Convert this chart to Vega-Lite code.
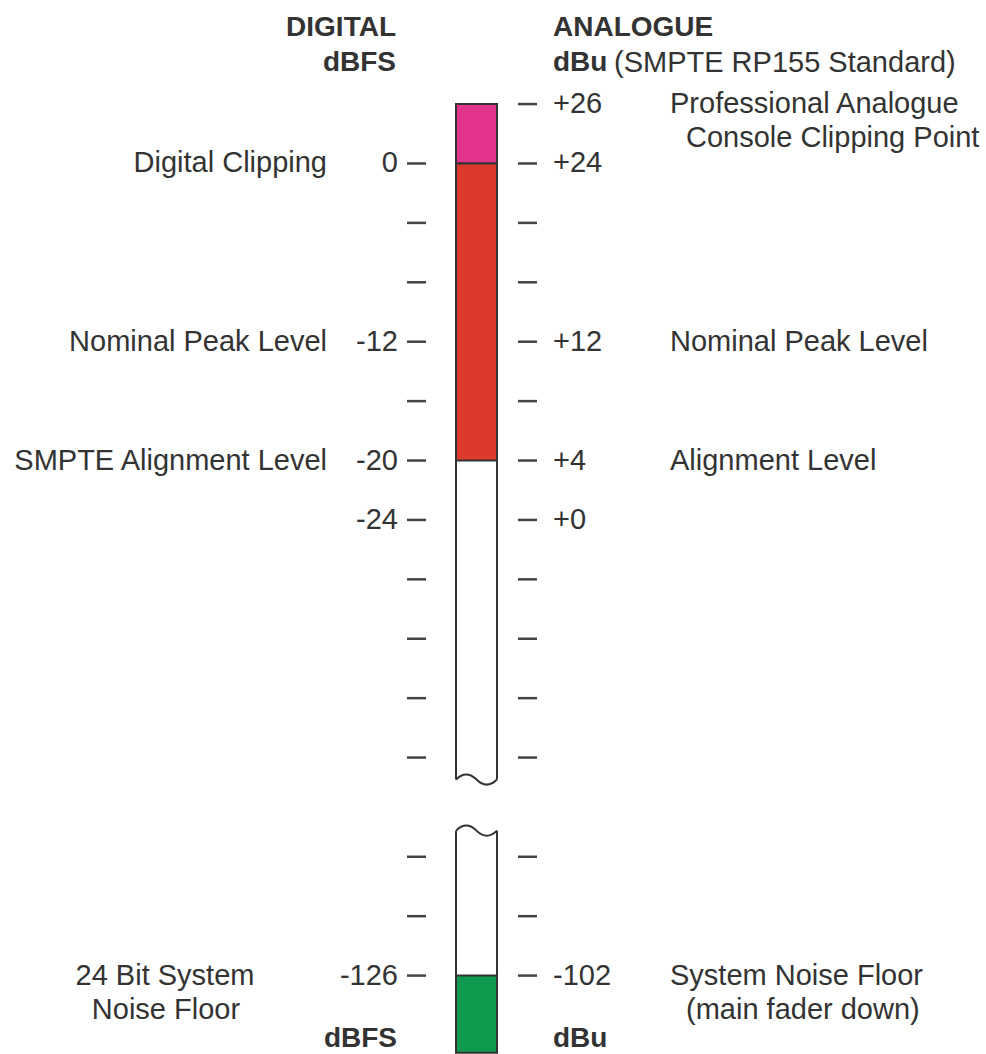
{
  "$schema": "https://vega.github.io/schema/vega-lite/v6.json",
  "width": 986,
  "height": 1054,
  "autosize": {"type": "fit", "contains": "padding"},
  "padding": 0,
  "background": "white",
  "config": {
    "view": {"stroke": null},
    "text": {"font": "Liberation Sans", "fontSize": 29, "fill": "#333333", "baseline": "middle"}
  },
  "datasets": {
    "levels": [
      {"row": 0, "dbu": "+26", "right_label": "Professional Analogue", "right_label_2": "Console Clipping Point"},
      {"row": 1, "dbfs": "0", "dbu": "+24", "left_label": "Digital Clipping"},
      {"row": 2},
      {"row": 3},
      {"row": 4, "dbfs": "-12", "dbu": "+12", "left_label": "Nominal Peak Level", "right_label": "Nominal Peak Level"},
      {"row": 5},
      {"row": 6, "dbfs": "-20", "dbu": "+4", "left_label": "SMPTE Alignment Level", "right_label": "Alignment Level"},
      {"row": 7, "dbfs": "-24", "dbu": "+0"},
      {"row": 8},
      {"row": 9},
      {"row": 10},
      {"row": 11},
      {"row": 12.67},
      {"row": 13.67},
      {"row": 14.67, "dbfs": "-126", "dbu": "-102", "left_note": "24 Bit System", "left_note_2": "Noise Floor", "right_label": "System Noise Floor", "right_label_2": "(main fader down)"}
    ],
    "segments": [
      {"zone": "above digital clipping", "from_row": 0, "to_row": 1},
      {"zone": "peak region", "from_row": 1, "to_row": 6},
      {"zone": "headroom upper", "from_row": 6, "to_row": 11.37},
      {"zone": "headroom lower", "from_row": 12.23, "to_row": 14.67},
      {"zone": "noise floor", "from_row": 14.67, "to_row": 15.97}
    ]
  },
  "layer": [
    {
      "data": {"name": "segments"},
      "transform": [{"filter": "indexof(datum.zone, 'headroom') < 0"}],
      "mark": {"type": "rect", "stroke": "#333333", "strokeWidth": 2},
      "encoding": {
        "x": {"datum": 456, "type": "quantitative", "scale": {"domain": [0, 986], "nice": false, "zero": false}, "axis": null},
        "x2": {"datum": 497},
        "y": {"field": "from_row", "type": "quantitative", "scale": {"domain": [-1.752, 15.99], "reverse": true, "nice": false, "zero": false}, "axis": null},
        "y2": {"field": "to_row"},
        "color": {"field": "zone", "type": "nominal", "legend": null, "scale": {"domain": ["above digital clipping", "peak region", "headroom upper", "headroom lower", "noise floor"], "range": ["#e2338d", "#dc3a2c", "#ffffff", "#ffffff", "#0f9a50"]}}
      }
    },
    {
      "data": {"name": "segments"},
      "transform": [{"filter": "indexof(datum.zone, 'headroom') >= 0"}],
      "mark": {"type": "rule", "stroke": "#333333", "strokeWidth": 2},
      "encoding": {
        "x": {"datum": 456, "type": "quantitative", "scale": {"domain": [0, 986], "nice": false, "zero": false}, "axis": null},
        "y": {"field": "from_row", "type": "quantitative", "scale": {"domain": [-1.752, 15.99], "reverse": true, "nice": false, "zero": false}, "axis": null},
        "y2": {"field": "to_row"}
      }
    },
    {
      "data": {"name": "segments"},
      "transform": [{"filter": "indexof(datum.zone, 'headroom') >= 0"}],
      "mark": {"type": "rule", "stroke": "#333333", "strokeWidth": 2},
      "encoding": {
        "x": {"datum": 497, "type": "quantitative", "scale": {"domain": [0, 986], "nice": false, "zero": false}, "axis": null},
        "y": {"field": "from_row", "type": "quantitative", "scale": {"domain": [-1.752, 15.99], "reverse": true, "nice": false, "zero": false}, "axis": null},
        "y2": {"field": "to_row"}
      }
    },
    {
      "data": {"name": "segments"},
      "transform": [{"filter": "datum.zone == 'headroom upper'"}],
      "mark": {"type": "point", "shape": "M-1,0 Q-0.5,-0.5 0,0 T1,0", "size": 1681, "filled": false, "stroke": "#333333", "strokeWidth": 2, "opacity": 1},
      "encoding": {
        "x": {"datum": 476.5, "type": "quantitative", "scale": {"domain": [0, 986], "nice": false, "zero": false}, "axis": null},
        "y": {"field": "to_row", "type": "quantitative", "scale": {"domain": [-1.752, 15.99], "reverse": true, "nice": false, "zero": false}, "axis": null}
      }
    },
    {
      "data": {"name": "segments"},
      "transform": [{"filter": "datum.zone == 'headroom lower'"}],
      "mark": {"type": "point", "shape": "M-1,0 Q-0.5,-0.5 0,0 T1,0", "size": 1681, "filled": false, "stroke": "#333333", "strokeWidth": 2, "opacity": 1},
      "encoding": {
        "x": {"datum": 476.5, "type": "quantitative", "scale": {"domain": [0, 986], "nice": false, "zero": false}, "axis": null},
        "y": {"field": "from_row", "type": "quantitative", "scale": {"domain": [-1.752, 15.99], "reverse": true, "nice": false, "zero": false}, "axis": null}
      }
    },
    {
      "data": {"name": "levels"},
      "transform": [{"filter": "datum.row > 0"}],
      "mark": {"type": "rule", "stroke": "#444444", "strokeWidth": 2.5},
      "encoding": {
        "x": {"datum": 407, "type": "quantitative", "scale": {"domain": [0, 986], "nice": false, "zero": false}, "axis": null},
        "x2": {"datum": 426},
        "y": {"field": "row", "type": "quantitative", "scale": {"domain": [-1.752, 15.99], "reverse": true, "nice": false, "zero": false}, "axis": null}
      }
    },
    {
      "data": {"name": "levels"},
      "mark": {"type": "rule", "stroke": "#444444", "strokeWidth": 2.5},
      "encoding": {
        "x": {"datum": 518, "type": "quantitative", "scale": {"domain": [0, 986], "nice": false, "zero": false}, "axis": null},
        "x2": {"datum": 537},
        "y": {"field": "row", "type": "quantitative", "scale": {"domain": [-1.752, 15.99], "reverse": true, "nice": false, "zero": false}, "axis": null}
      }
    },
    {
      "data": {"name": "levels"},
      "transform": [{"filter": "datum.dbfs"}],
      "mark": {"type": "text", "align": "right"},
      "encoding": {
        "x": {"datum": 398, "type": "quantitative", "scale": {"domain": [0, 986], "nice": false, "zero": false}, "axis": null},
        "y": {"field": "row", "type": "quantitative", "scale": {"domain": [-1.752, 15.99], "reverse": true, "nice": false, "zero": false}, "axis": null},
        "text": {"field": "dbfs"}
      }
    },
    {
      "data": {"name": "levels"},
      "transform": [{"filter": "datum.dbu"}],
      "mark": {"type": "text", "align": "left"},
      "encoding": {
        "x": {"datum": 553, "type": "quantitative", "scale": {"domain": [0, 986], "nice": false, "zero": false}, "axis": null},
        "y": {"field": "row", "type": "quantitative", "scale": {"domain": [-1.752, 15.99], "reverse": true, "nice": false, "zero": false}, "axis": null},
        "text": {"field": "dbu"}
      }
    },
    {
      "data": {"name": "levels"},
      "transform": [{"filter": "datum.left_label"}],
      "mark": {"type": "text", "align": "right"},
      "encoding": {
        "x": {"datum": 327, "type": "quantitative", "scale": {"domain": [0, 986], "nice": false, "zero": false}, "axis": null},
        "y": {"field": "row", "type": "quantitative", "scale": {"domain": [-1.752, 15.99], "reverse": true, "nice": false, "zero": false}, "axis": null},
        "text": {"field": "left_label"}
      }
    },
    {
      "data": {"name": "levels"},
      "transform": [{"filter": "datum.left_note"}],
      "mark": {"type": "text", "align": "center"},
      "encoding": {
        "x": {"datum": 165, "type": "quantitative", "scale": {"domain": [0, 986], "nice": false, "zero": false}, "axis": null},
        "y": {"field": "row", "type": "quantitative", "scale": {"domain": [-1.752, 15.99], "reverse": true, "nice": false, "zero": false}, "axis": null},
        "text": {"field": "left_note"}
      }
    },
    {
      "data": {"name": "levels"},
      "transform": [{"filter": "datum.left_note_2"}],
      "mark": {"type": "text", "align": "center", "dy": 34},
      "encoding": {
        "x": {"datum": 166, "type": "quantitative", "scale": {"domain": [0, 986], "nice": false, "zero": false}, "axis": null},
        "y": {"field": "row", "type": "quantitative", "scale": {"domain": [-1.752, 15.99], "reverse": true, "nice": false, "zero": false}, "axis": null},
        "text": {"field": "left_note_2"}
      }
    },
    {
      "data": {"name": "levels"},
      "transform": [{"filter": "datum.right_label"}],
      "mark": {"type": "text", "align": "left"},
      "encoding": {
        "x": {"datum": 670, "type": "quantitative", "scale": {"domain": [0, 986], "nice": false, "zero": false}, "axis": null},
        "y": {"field": "row", "type": "quantitative", "scale": {"domain": [-1.752, 15.99], "reverse": true, "nice": false, "zero": false}, "axis": null},
        "text": {"field": "right_label"}
      }
    },
    {
      "data": {"name": "levels"},
      "transform": [{"filter": "datum.right_label_2"}],
      "mark": {"type": "text", "align": "left", "dy": 34},
      "encoding": {
        "x": {"datum": 686, "type": "quantitative", "scale": {"domain": [0, 986], "nice": false, "zero": false}, "axis": null},
        "y": {"field": "row", "type": "quantitative", "scale": {"domain": [-1.752, 15.99], "reverse": true, "nice": false, "zero": false}, "axis": null},
        "text": {"field": "right_label_2"}
      }
    },
    {
      "data": {"values": [{"heading": "DIGITAL"}]},
      "mark": {"type": "text", "align": "right", "fontWeight": "bold", "fontSize": 28},
      "encoding": {
        "x": {"datum": 396, "type": "quantitative", "scale": {"domain": [0, 986], "nice": false, "zero": false}, "axis": null},
        "y": {"datum": -1.28, "type": "quantitative", "scale": {"domain": [-1.752, 15.99], "reverse": true, "nice": false, "zero": false}, "axis": null},
        "text": {"field": "heading"}
      }
    },
    {
      "data": {"values": [{"heading": "dBFS"}]},
      "mark": {"type": "text", "align": "right", "fontWeight": "bold", "fontSize": 28},
      "encoding": {
        "x": {"datum": 396, "type": "quantitative", "scale": {"domain": [0, 986], "nice": false, "zero": false}, "axis": null},
        "y": {"datum": -0.69, "type": "quantitative", "scale": {"domain": [-1.752, 15.99], "reverse": true, "nice": false, "zero": false}, "axis": null},
        "text": {"field": "heading"}
      }
    },
    {
      "data": {"values": [{"heading": "ANALOGUE"}]},
      "mark": {"type": "text", "align": "left", "fontWeight": "bold", "fontSize": 28},
      "encoding": {
        "x": {"datum": 553, "type": "quantitative", "scale": {"domain": [0, 986], "nice": false, "zero": false}, "axis": null},
        "y": {"datum": -1.28, "type": "quantitative", "scale": {"domain": [-1.752, 15.99], "reverse": true, "nice": false, "zero": false}, "axis": null},
        "text": {"field": "heading"}
      }
    },
    {
      "data": {"values": [{"heading": "dBu"}]},
      "mark": {"type": "text", "align": "left", "fontWeight": "bold", "fontSize": 28},
      "encoding": {
        "x": {"datum": 553, "type": "quantitative", "scale": {"domain": [0, 986], "nice": false, "zero": false}, "axis": null},
        "y": {"datum": -0.69, "type": "quantitative", "scale": {"domain": [-1.752, 15.99], "reverse": true, "nice": false, "zero": false}, "axis": null},
        "text": {"field": "heading"}
      }
    },
    {
      "data": {"values": [{"heading": "(SMPTE RP155 Standard)"}]},
      "mark": {"type": "text", "align": "left"},
      "encoding": {
        "x": {"datum": 614, "type": "quantitative", "scale": {"domain": [0, 986], "nice": false, "zero": false}, "axis": null},
        "y": {"datum": -0.69, "type": "quantitative", "scale": {"domain": [-1.752, 15.99], "reverse": true, "nice": false, "zero": false}, "axis": null},
        "text": {"field": "heading"}
      }
    },
    {
      "data": {"values": [{"heading": "dBFS"}]},
      "mark": {"type": "text", "align": "right", "fontWeight": "bold", "fontSize": 28},
      "encoding": {
        "x": {"datum": 397, "type": "quantitative", "scale": {"domain": [0, 986], "nice": false, "zero": false}, "axis": null},
        "y": {"datum": 15.73, "type": "quantitative", "scale": {"domain": [-1.752, 15.99], "reverse": true, "nice": false, "zero": false}, "axis": null},
        "text": {"field": "heading"}
      }
    },
    {
      "data": {"values": [{"heading": "dBu"}]},
      "mark": {"type": "text", "align": "left", "fontWeight": "bold", "fontSize": 28},
      "encoding": {
        "x": {"datum": 553, "type": "quantitative", "scale": {"domain": [0, 986], "nice": false, "zero": false}, "axis": null},
        "y": {"datum": 15.73, "type": "quantitative", "scale": {"domain": [-1.752, 15.99], "reverse": true, "nice": false, "zero": false}, "axis": null},
        "text": {"field": "heading"}
      }
    }
  ]
}
